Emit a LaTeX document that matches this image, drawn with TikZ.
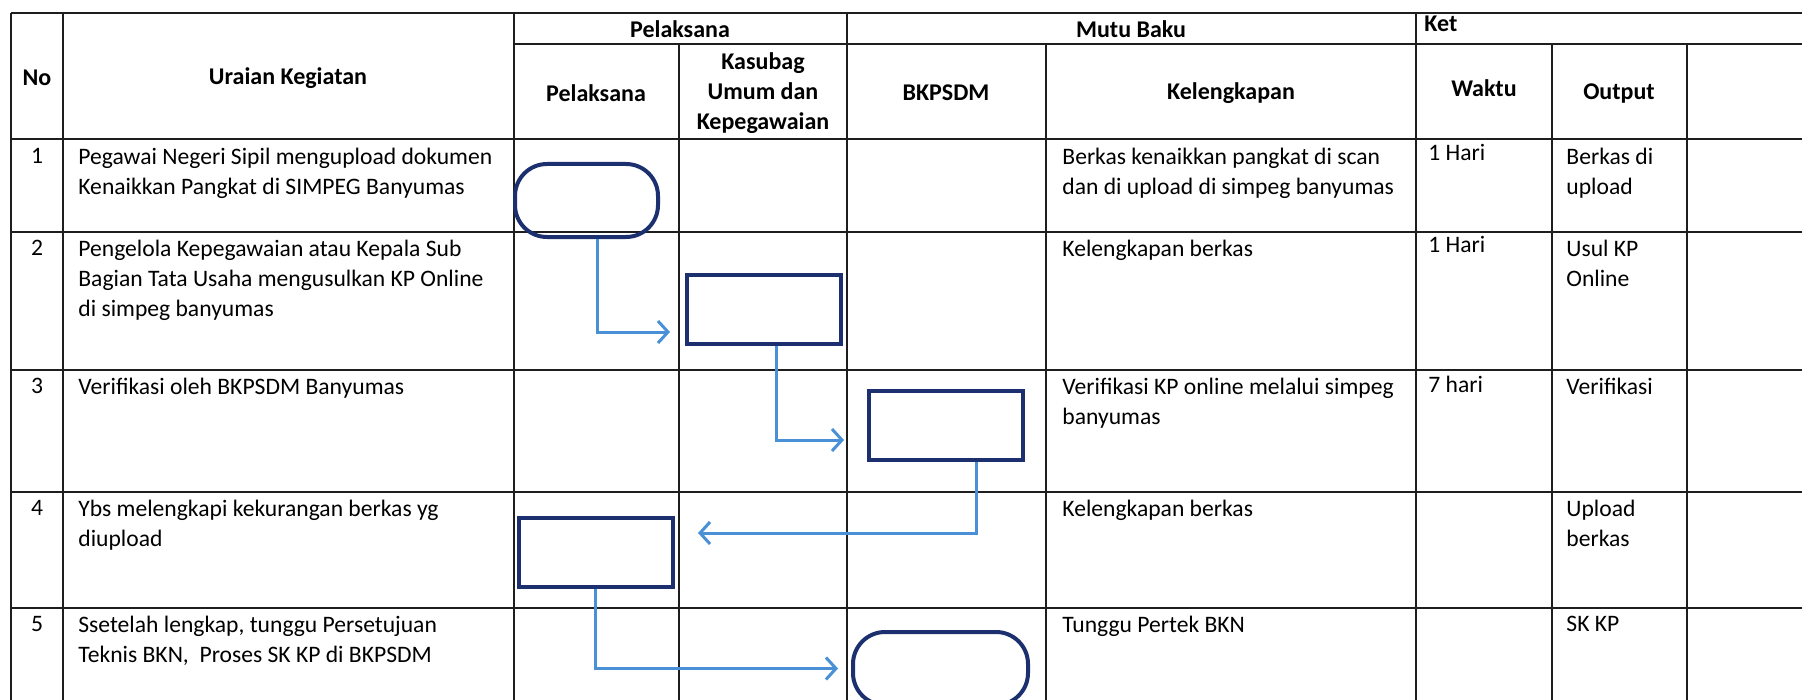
\documentclass[tikz,border=0pt]{standalone}
\usepackage{fontspec}
\setmainfont{Carlito}
\usepackage{tikz}
\usetikzlibrary{arrows.meta}

\definecolor{navy}{HTML}{1C2F6E}
\definecolor{flowblue}{HTML}{4A90D6}
\definecolor{gridline}{HTML}{1E1E1E}

\tikzset{
  cell/.style={anchor=north west, inner sep=0pt, align=left, font=\fontsize{11.8}{15}\selectfont},
  num/.style={anchor=north, inner sep=0pt, font=\fontsize{11.8}{15}\selectfont},
  head/.style={inner sep=0pt, align=center, font=\fontsize{12}{15}\selectfont\bfseries},
  procbox/.style={draw=navy, line width=2pt, minimum width=77pt, minimum height=34.5pt, inner sep=0pt},
  termbox/.style={procbox, minimum height=36.5pt, rounded corners=16pt},
  flow/.style={draw=flowblue, line width=1.5pt, -{Straight Barb[length=5pt,width=11pt]}},
  rule/.style={draw=gridline, line width=1.1pt}
}

\begin{document}
\begin{tikzpicture}[x=0.5pt,y=-0.5pt]
\clip (0,0) rectangle (1802,700);

% table lines
\draw[rule] (11,13) -- (1802,13);
\draw[rule] (514,44) -- (1802,44);
\draw[rule] (11,139) -- (1802,139);
\draw[rule] (11,232) -- (1802,232);
\draw[rule] (11,370) -- (1802,370);
\draw[rule] (11,492) -- (1802,492);
\draw[rule] (11,608) -- (1802,608);

\draw[rule] (11,13) -- (11,700);
\draw[rule] (63,13) -- (63,700);
\draw[rule] (514,13) -- (514,700);
\draw[rule] (679,44) -- (679,700);
\draw[rule] (847,13) -- (847,700);
\draw[rule] (1046,44) -- (1046,700);
\draw[rule] (1416,13) -- (1416,700);
\draw[rule] (1552,44) -- (1552,700);
\draw[rule] (1687,44) -- (1687,700);

% header
\node[head] (hpel) at (680,29) {Pelaksana};
\node[head] (hmutu) at (1131,29) {Mutu Baku};
\node[head, anchor=west] (hket) at (1424,24) {Ket};
\node[head] (hno) at (37,78) {No};
\node[head] (hurai) at (288,78) {Uraian Kegiatan};
\node[head] (hpel2) at (596,93) {Pelaksana};
\node[head] (hkas) at (763,93) {Kasubag\\Umum dan\\Kepegawaian};
\node[head] (hbkp) at (946,93) {BKPSDM};
\node[head] (hkel) at (1231,93) {Kelengkapan};
\node[head] (hwak) at (1484,88) {Waktu};
\node[head] (hout) at (1619,94) {Output};

% row one
\node[num] (n1) at (37,148) {1};
\node[cell] (u1) at (78,148) {Pegawai Negeri Sipil mengupload dokumen\\Kenaikkan Pangkat di SIMPEG Banyumas};
\node[cell] (k1) at (1062,148) {Berkas kenaikkan pangkat di scan\\dan di upload di simpeg banyumas};
\node[cell] (w1) at (1428,144) {1 Hari};
\node[cell] (o1) at (1566,148) {Berkas di\\upload};

% row two
\node[num] (n2) at (37,240) {2};
\node[cell] (u2) at (78,240) {Pengelola Kepegawaian atau Kepala Sub\\Bagian Tata Usaha mengusulkan KP Online\\di simpeg banyumas};
\node[cell] (k2) at (1062,240) {Kelengkapan berkas};
\node[cell] (w2) at (1428,236) {1 Hari};
\node[cell] (o2) at (1566,240) {Usul KP\\Online};

% row three
\node[num] (n3) at (37,378) {3};
\node[cell] (u3) at (78,378) {Verifikasi oleh BKPSDM Banyumas};
\node[cell] (k3) at (1062,378) {Verifikasi KP online melalui simpeg\\banyumas};
\node[cell] (w3) at (1428,376) {7 hari};
\node[cell] (o3) at (1566,378) {Verifikasi};

% row four
\node[num] (n4) at (37,500) {4};
\node[cell] (u4) at (78,500) {Ybs melengkapi kekurangan berkas yg\\diupload};
\node[cell] (k4) at (1062,500) {Kelengkapan berkas};
\node[cell] (o4) at (1566,500) {Upload\\berkas};

% row five
\node[num] (n5) at (37,616) {5};
\node[cell] (u5) at (78,616) {Ssetelah lengkap, tunggu Persetujuan\\Teknis BKN,\ \ Proses SK KP di BKPSDM};
\node[cell] (k5) at (1062,616) {Tunggu Pertek BKN};
\node[cell] (o5) at (1566,616) {SK KP};

% flow shapes
\node[termbox, minimum width=71.5pt] (start) at (586.5,200.5) {};
\node[procbox] (usul) at (764,309) {};
\node[procbox] (verif) at (946,425) {};
\node[procbox] (lengkap) at (596,552) {};
\node[termbox, minimum width=87.5pt] (skkp) at (940.5,668.5) {};

% connectors
\draw[flow] ([xshift=5.25pt]start.south) |- ([xshift=-7.5pt,yshift=-11.5pt]usul.west);
\draw[flow] ([xshift=6pt]usul.south) |- ([xshift=-11.5pt,yshift=-7.5pt]verif.west);
\draw[flow] ([xshift=15pt]verif.south) |- ([xshift=11.5pt,yshift=9.5pt]lengkap.east);
\draw[flow] ([xshift=-0.5pt]lengkap.south) |- ([xshift=-6.5pt]skkp.west);

\end{tikzpicture}
\end{document}
